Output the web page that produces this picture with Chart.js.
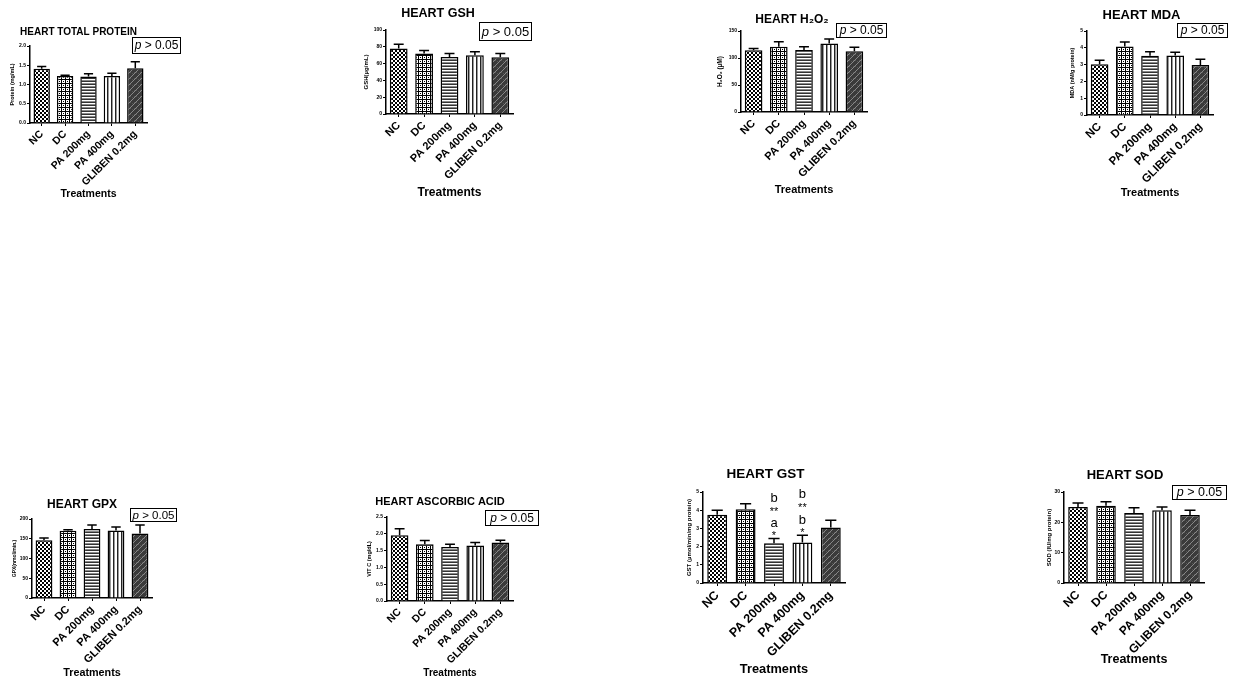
<!DOCTYPE html>
<html>
<head>
<meta charset="utf-8">
<script src="https://cdn.jsdelivr.net/npm/chart.js@4.4.0/dist/chart.umd.min.js"></script>
<style>
  body { margin: 0; background: #fff; width: 1238px; height: 679px; position: relative; overflow: hidden; }
  canvas { position: absolute; }
</style>
</head>
<body>
<script>
// groups shared by every panel
const groups = ['NC', 'DC', 'PA 200mg', 'PA 400mg', 'GLIBEN 0.2mg'];

// bar heights (mean) and error bar length (SEM)
const proteinMean = [1.41, 1.22, 1.21, 1.22, 1.42];
const proteinSem  = [0.06, 0.02, 0.07, 0.07, 0.17];

const gshMean = [78, 72, 68, 70, 67.5];
const gshSem  = [5, 3.5, 4, 4, 4.5];

const h2o2Mean = [114.5, 121, 115, 127, 112.5];
const h2o2Sem  = [3, 9, 6, 8, 7.5];

const mdaMean = [3.02, 4.07, 3.52, 3.54, 2.98];
const mdaSem  = [0.24, 0.28, 0.25, 0.2, 0.34];

const gpxMean = [146, 170, 175, 171, 163];
const gpxSem  = [6, 3, 10, 9, 22];

const vitcMean = [1.96, 1.69, 1.61, 1.65, 1.74];
const vitcSem  = [0.19, 0.11, 0.08, 0.09, 0.07];

const gstMean = [3.75, 4.05, 2.18, 2.22, 3.05];
const gstSem  = [0.25, 0.3, 0.26, 0.4, 0.4];
const gstMarks = [[], [], ['*', 'a', '**', 'b'], ['*', 'b', '**', 'b'], []];

const sodMean = [25.05, 25.5, 23.1, 24.0, 22.4];
const sodSem  = [1.35, 1.3, 1.7, 1.05, 1.6];

// y axis ranges: [max, step, decimals]
const proteinAxis = [2, 0.5, 1];
const gshAxis = [100, 20, 0];
const h2o2Axis = [150, 50, 0];
const mdaAxis = [5, 1, 0];
const gpxAxis = [200, 50, 0];
const vitcAxis = [2.5, 0.5, 1];
const gstAxis = [5, 1, 0];
const sodAxis = [30, 10, 0];

const FONT = "'Liberation Sans', Arial, sans-serif";

function tile(w, h, draw) {
    const c = document.createElement('canvas');
    c.width = w; c.height = h;
    const g = c.getContext('2d');
    draw(g);
    return c;
}

// fill patterns like the GraphPad bars
function makePatterns(ctx) {
    const checker = tile(4, 4, g => {
        g.fillStyle = '#000'; g.fillRect(0, 0, 4, 4);
        g.fillStyle = '#fff'; g.fillRect(0, 0, 2, 2); g.fillRect(2, 2, 2, 2);
    });
    const rings = tile(4, 4, g => {
        g.fillStyle = '#000'; g.fillRect(0, 0, 4, 4);
        g.fillStyle = '#fff'; g.fillRect(0, 0, 3, 3);
        g.fillStyle = '#000'; g.fillRect(1, 1, 1, 1);
    });
    const hlines = tile(4, 3, g => {
        g.fillStyle = '#333'; g.fillRect(0, 0, 4, 1);
        g.fillStyle = '#fff'; g.fillRect(0, 1, 4, 1);
        g.fillStyle = '#888'; g.fillRect(0, 2, 4, 1);
    });
    const vlines = tile(4, 4, g => {
        g.fillStyle = '#fff'; g.fillRect(0, 0, 4, 4);
        g.fillStyle = '#222'; g.fillRect(1, 0, 1, 4);
        g.fillStyle = '#999'; g.fillRect(2, 0, 1, 4);
    });
    const diag = tile(6, 6, g => {
        g.fillStyle = '#3a3a3a'; g.fillRect(0, 0, 6, 6);
        g.fillStyle = '#555';
        for (let i = 0; i < 6; i += 2) g.fillRect(i, (i % 4) ? 1 : 0, 1, 1);
        g.fillStyle = '#888';
        for (let i = 0; i < 6; i++) g.fillRect(i, 5 - i, 1, 1);
    });
    return [checker, rings, hlines, vlines, diag].map(t => ctx.createPattern(t, 'repeat'));
}

const panels = [
    { title: 'HEART TOTAL PROTEIN', yTitle: 'Protein (mg/mL)', mean: proteinMean, sem: proteinSem, axis: proteinAxis,
      plot: { l: 30, r: 147, t: 46, b: 123 }, yw: 20, top: 0, bottom: 205, right: 184,
      titleY: 32, titleSize: 10, xTitleY: 194, xTitleSize: 10.5, labelSize: 10.5, ySize: 5.5,
      pbox: { x: 132, y: 37, w: 48, h: 16, s: 12 } },
    { title: 'HEART GSH', yTitle: 'GSH(µg/mL)', mean: gshMean, sem: gshSem, axis: gshAxis,
      plot: { l: 386, r: 513, t: 30, b: 114 }, yw: 23, top: 0, bottom: 205, right: 536,
      titleY: 14, titleSize: 12.5, xTitleY: 193, xTitleSize: 12, labelSize: 11, ySize: 6,
      pbox: { x: 479, y: 22, w: 52, h: 18, s: 13 } },
    { title: 'HEART H₂O₂', yTitle: 'H₂O₂ (µM)', mean: h2o2Mean, sem: h2o2Sem, axis: h2o2Axis,
      plot: { l: 741, r: 867, t: 31, b: 112 }, yw: 24, top: 0, bottom: 205, right: 890,
      titleY: 20, titleSize: 12, xTitleY: 190, xTitleSize: 11, labelSize: 11, ySize: 6.5,
      pbox: { x: 836, y: 23, w: 50, h: 14, s: 12 } },
    { title: 'HEART MDA', yTitle: 'MDA (nM/g protein)', mean: mdaMean, sem: mdaSem, axis: mdaAxis,
      plot: { l: 1087, r: 1213, t: 31, b: 115 }, yw: 17, top: 0, bottom: 205, right: 1232,
      titleY: 15, titleSize: 13, xTitleY: 193, xTitleSize: 11, labelSize: 11.5, ySize: 5.5,
      pbox: { x: 1177, y: 23, w: 50, h: 14, s: 12 } },
    { title: 'HEART GPX', yTitle: 'GPX(nmol/min.)', mean: gpxMean, sem: gpxSem, axis: gpxAxis,
      plot: { l: 32, r: 152, t: 519, b: 598 }, yw: 20, top: 490, bottom: 679, right: 180,
      titleY: 505, titleSize: 12, xTitleY: 673, xTitleSize: 10.8, labelSize: 11, ySize: 5,
      pbox: { x: 130, y: 508, w: 46, h: 13, s: 11.5 } },
    { title: 'HEART ASCORBIC ACID', yTitle: 'VIT C (mg/dL)', mean: vitcMean, sem: vitcSem, axis: vitcAxis,
      plot: { l: 387, r: 513, t: 517, b: 601 }, yw: 20, top: 490, bottom: 679, right: 542,
      titleY: 502, titleSize: 11, xTitleY: 673, xTitleSize: 10, labelSize: 10.5, ySize: 5.5,
      pbox: { x: 485, y: 510, w: 53, h: 15, s: 12 } },
    { title: 'HEART GST', yTitle: 'GST (µmol/min/mg protein)', mean: gstMean, sem: gstSem, axis: gstAxis,
      plot: { l: 703, r: 845, t: 492, b: 583 }, yw: 17, top: 460, bottom: 679, right: 850,
      titleY: 474, titleSize: 13.5, xTitleY: 669, xTitleSize: 12.8, labelSize: 12.5, ySize: 6,
      pbox: null, marks: gstMarks },
    { title: 'HEART SOD', yTitle: 'SOD (IU/mg protein)', mean: sodMean, sem: sodSem, axis: sodAxis,
      plot: { l: 1064, r: 1204, t: 492, b: 583 }, yw: 18, top: 460, bottom: 679, right: 1230,
      titleY: 475, titleSize: 13, xTitleY: 660, xTitleSize: 12.5, labelSize: 12, ySize: 6,
      pbox: { x: 1172, y: 485, w: 54, h: 14, s: 12.5 } }
];

function drawPanel(p) {
    const left = p.plot.l - p.yw;
    const canvas = document.createElement('canvas');
    canvas.width = p.right - left;
    canvas.height = p.bottom - p.top;
    canvas.style.left = left + 'px';
    canvas.style.top = p.top + 'px';
    document.body.appendChild(canvas);
    const ctx = canvas.getContext('2d');

    const xh = p.xTitleY + p.xTitleSize / 2 - p.plot.b;
    const [yMax, yStep, yDec] = p.axis;

    // error bars, significance marks and the p-value box
    const extras = {
        id: 'extras',
        afterDatasetsDraw(chart) {
            const c = chart.ctx;
            const meta = chart.getDatasetMeta(0);
            const ys = chart.scales.y;
            c.save();
            c.strokeStyle = '#000';
            c.fillStyle = '#000';
            c.lineWidth = 1.5;
            meta.data.forEach((bar, i) => {
                const yTop = ys.getPixelForValue(p.mean[i] + p.sem[i]);
                const yBar = ys.getPixelForValue(p.mean[i]);
                const half = bar.width * 0.28;
                c.beginPath();
                c.moveTo(bar.x, yBar);
                c.lineTo(bar.x, yTop);
                c.moveTo(bar.x - half, yTop);
                c.lineTo(bar.x + half, yTop);
                c.stroke();
                if (p.marks) {
                    const offs = [5, 15, 29.5, 40.5];
                    p.marks[i].forEach((m, k) => {
                        const isStar = m.indexOf('*') >= 0;
                        c.font = (isStar ? '11px ' : '13px ') + FONT;
                        c.textAlign = 'center';
                        c.textBaseline = 'middle';
                        c.fillText(m, bar.x, yTop - offs[k] + (isStar ? 2.5 : 0));
                    });
                }
            });
            if (p.pbox) {
                const b = p.pbox;
                const bx = b.x - left, by = b.y - p.top;
                c.lineWidth = 1;
                c.strokeRect(bx + 0.5, by + 0.5, b.w, b.h);
                c.textBaseline = 'middle';
                c.textAlign = 'left';
                c.font = 'italic ' + b.s + 'px ' + FONT;
                const w1 = c.measureText('p').width;
                c.font = b.s + 'px ' + FONT;
                const w2 = c.measureText(' > 0.05').width;
                const tx = bx + (b.w - w1 - w2) / 2 + 0.5;
                const ty = by + b.h / 2 + 1;
                c.font = 'italic ' + b.s + 'px ' + FONT;
                c.fillText('p', tx, ty);
                c.font = b.s + 'px ' + FONT;
                c.fillText(' > 0.05', tx + w1, ty);
            }
            c.restore();
        }
    };

    new Chart(ctx, {
        type: 'bar',
        data: {
            labels: groups,
            datasets: [{
                data: p.mean,
                backgroundColor: makePatterns(ctx),
                borderColor: '#000',
                borderWidth: 1.5,
                borderSkipped: 'bottom',
                barPercentage: 0.7,
                categoryPercentage: 1
            }]
        },
        options: {
            responsive: false,
            animation: false,
            devicePixelRatio: 1,
            layout: {
                padding: { left: 0, top: 0, right: p.right - p.plot.r, bottom: (p.bottom - p.top) - (p.plot.b - p.top + xh) }
            },
            plugins: {
                legend: { display: false },
                tooltip: { enabled: false },
                title: {
                    display: true,
                    text: p.title,
                    color: '#000',
                    font: { family: FONT, size: p.titleSize, weight: 'bold', lineHeight: 1 },
                    padding: { top: p.titleY - p.titleSize / 2 - p.top, bottom: p.plot.t - p.titleY - p.titleSize / 2 }
                }
            },
            scales: {
                x: {
                    offset: true,
                    border: { color: '#000', width: 1.5 },
                    grid: { display: true, drawOnChartArea: false, offset: false, tickLength: 3, color: '#000', lineWidth: 1 },
                    ticks: {
                        color: '#000', autoSkip: false, minRotation: 45, maxRotation: 45, padding: 2,
                        font: { family: FONT, size: p.labelSize, weight: 'bold' }
                    },
                    title: {
                        display: true, text: 'Treatments', color: '#000', padding: 0,
                        font: { family: FONT, size: p.xTitleSize, weight: 'bold', lineHeight: 1 }
                    },
                    afterFit: s => { s.height = xh; }
                },
                y: {
                    min: 0,
                    max: yMax,
                    border: { color: '#000', width: 1.5 },
                    grid: { display: true, drawOnChartArea: false, tickLength: 3, color: '#000', lineWidth: 1 },
                    ticks: {
                        stepSize: yStep, color: '#000', padding: 1,
                        font: { family: FONT, size: 5, weight: 'bold' },
                        callback: v => Number(v).toFixed(yDec)
                    },
                    title: {
                        display: true, text: p.yTitle, color: '#000', padding: 0,
                        font: { family: FONT, size: p.ySize, weight: 'bold', lineHeight: 1 }
                    },
                    afterFit: s => { s.width = p.yw; }
                }
            }
        },
        plugins: [extras]
    });
}

panels.forEach(drawPanel);
</script>
</body>
</html>
